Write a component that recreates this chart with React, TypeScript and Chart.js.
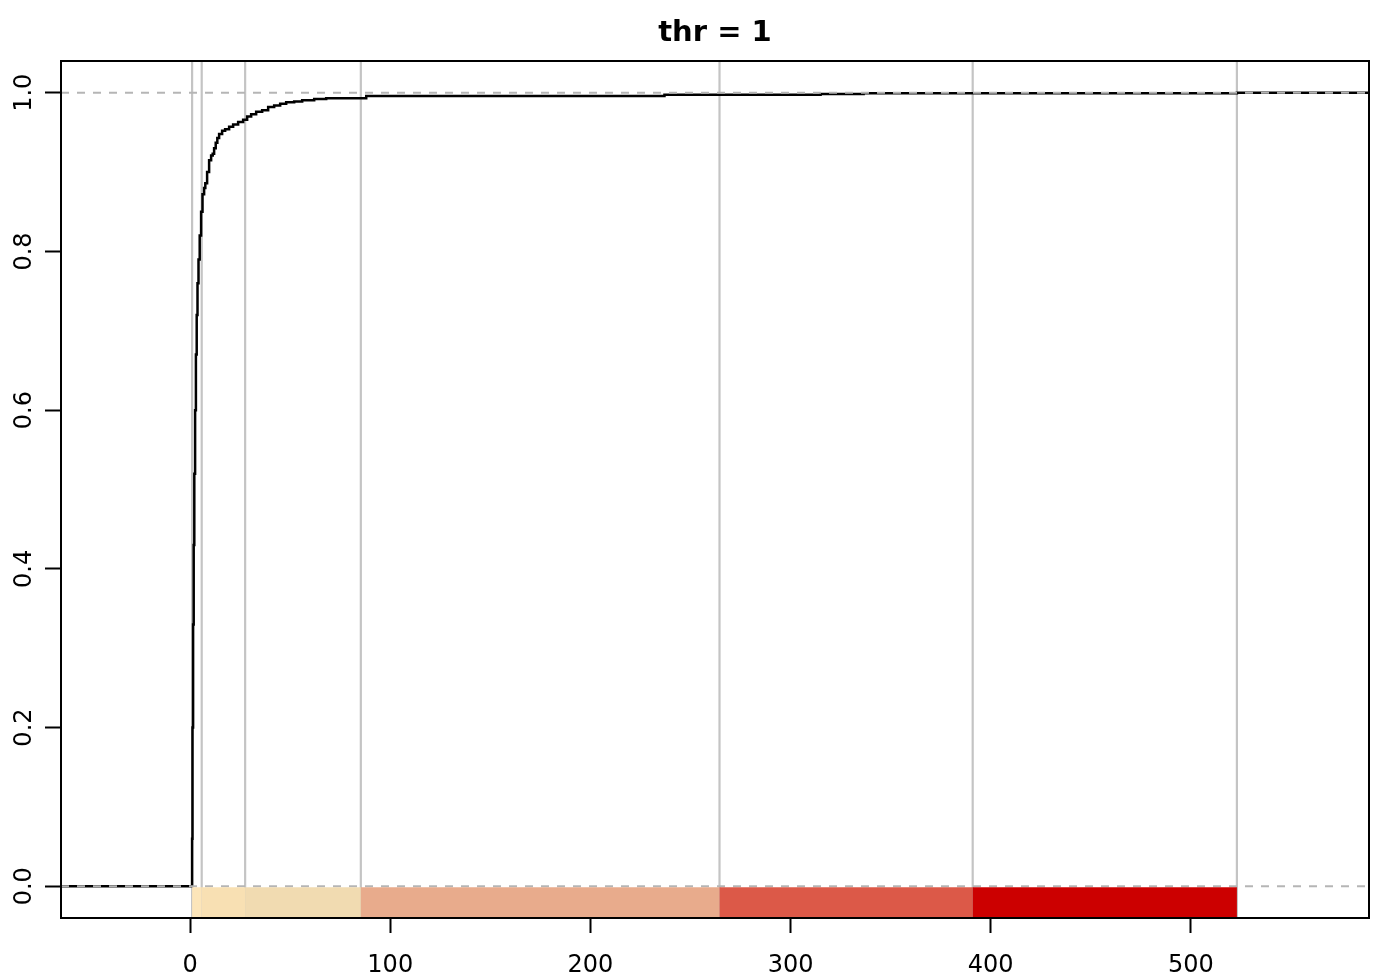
import React, { useEffect, useRef } from "react";
import { Chart, registerables } from "chart.js";

Chart.register(...registerables);

const titleText = "thr = 1";

// ECDF points (x, cumulative fraction)
const curveX = [-70, 1, 1.2, 1.5, 1.8, 2.1, 2.5, 2.9, 3.3, 3.7, 4.2, 4.8, 5.5, 6.2, 7, 7.6, 8.5, 9.5, 10.5, 11.3, 12, 12.8, 13.6, 14.5, 16, 17.5, 19.5, 21.5, 24, 26.5, 28.5, 30.5, 33, 36, 39, 42, 45, 48, 52, 56, 62, 68, 88, 237, 315, 336.5, 523, 600];
const curveY = [0, 0.06, 0.2, 0.33, 0.43, 0.52, 0.6, 0.67, 0.72, 0.76, 0.79, 0.82, 0.85, 0.872, 0.88, 0.886, 0.9, 0.915, 0.921, 0.923, 0.93, 0.937, 0.943, 0.948, 0.952, 0.954, 0.957, 0.96, 0.963, 0.966, 0.97, 0.973, 0.976, 0.978, 0.982, 0.984, 0.986, 0.988, 0.989, 0.9905, 0.992, 0.993, 0.996, 0.9975, 0.9985, 0.9993, 1, 1];

// band boundaries (also the vertical reference lines) and colours
const bandBreaks = [1, 5.8, 27.5, 85.3, 264.5, 391, 523];
const bandColors = ["#fce5b9", "#f8e0b3", "#f1dbb1", "#e8ab8c", "#dc5948", "#cc0000"];

// horizontal reference lines
const refLines = [0, 1];

const xTicks = [0, 100, 200, 300, 400, 500];
const yTicks = [0, 0.2, 0.4, 0.6, 0.8, 1.0];
const yTickLabels = ["0.0", "0.2", "0.4", "0.6", "0.8", "1.0"];

const xRange = [-64.5, 589];
const yRange = [-0.04, 1.04];

const FONT = "'DejaVu Sans', 'Liberation Sans', sans-serif";

const decorPlugin = {
  id: "decor",
  beforeDatasetsDraw(chart: any) {
    const { ctx, chartArea, scales } = chart;
    const xs = scales.x;
    ctx.save();
    ctx.beginPath();
    ctx.rect(chartArea.left, chartArea.top, chartArea.right - chartArea.left, chartArea.bottom - chartArea.top);
    ctx.clip();
    ctx.strokeStyle = "#c4c4c4";
    ctx.lineWidth = 2.2;
    for (const b of bandBreaks) {
      const px = xs.getPixelForValue(b);
      ctx.beginPath();
      ctx.moveTo(px, chartArea.top);
      ctx.lineTo(px, chartArea.bottom);
      ctx.stroke();
    }
    ctx.restore();
  },
  afterDatasetsDraw(chart: any) {
    const { ctx, chartArea, scales } = chart;
    const xs = scales.x;
    const ys = scales.y;
    ctx.save();
    ctx.beginPath();
    ctx.rect(chartArea.left, chartArea.top, chartArea.right - chartArea.left, chartArea.bottom - chartArea.top);
    ctx.clip();
    // dashed horizontal lines
    ctx.strokeStyle = "#b5b5b5";
    ctx.lineWidth = 2;
    ctx.setLineDash([8, 8]);
    for (const v of refLines) {
      const py = ys.getPixelForValue(v);
      ctx.beginPath();
      ctx.moveTo(chartArea.left, py);
      ctx.lineTo(chartArea.right, py);
      ctx.stroke();
    }
    ctx.setLineDash([]);
    // coloured bands below zero
    const y0 = ys.getPixelForValue(0) + 1;
    const y1 = ys.getPixelForValue(yRange[0]);
    for (let i = 0; i < bandColors.length; i++) {
      const a = xs.getPixelForValue(bandBreaks[i]);
      const b = xs.getPixelForValue(bandBreaks[i + 1]);
      ctx.fillStyle = bandColors[i];
      ctx.fillRect(a, y0, b - a, y1 - y0);
    }
    ctx.restore();
  },
  afterDraw(chart: any) {
    const { ctx, chartArea, scales } = chart;
    const ys = scales.y;
    ctx.save();
    // box
    ctx.strokeStyle = "#000";
    ctx.lineWidth = 2;
    ctx.strokeRect(chartArea.left, chartArea.top, chartArea.right - chartArea.left, chartArea.bottom - chartArea.top);
    // y tick labels (rotated)
    ctx.fillStyle = "#000";
    ctx.font = `24px ${FONT}`;
    ctx.textAlign = "center";
    ctx.textBaseline = "middle";
    for (let i = 0; i < yTicks.length; i++) {
      const py = ys.getPixelForValue(yTicks[i]);
      ctx.save();
      ctx.translate(chartArea.left - 36, py);
      ctx.rotate(-Math.PI / 2);
      ctx.fillText(yTickLabels[i], 0, 0);
      ctx.restore();
    }
    // title
    ctx.font = `bold 29px ${FONT}`;
    ctx.textAlign = "center";
    ctx.textBaseline = "middle";
    ctx.fillText(titleText, (chartArea.left + chartArea.right) / 2, 33);
    ctx.restore();
  },
};

export default function App() {
  const ref = useRef<HTMLCanvasElement | null>(null);
  useEffect(() => {
    document.body.style.margin = "0";
    const canvas = ref.current;
    if (!canvas) return;
    const data = curveX.map((x, i) => ({ x, y: curveY[i] }));
    const chart = new Chart(canvas, {
      type: "line",
      data: {
        datasets: [
          {
            data,
            borderColor: "#000",
            borderWidth: 2.5,
            pointRadius: 0,
            stepped: true,
            fill: false,
          },
        ],
      },
      options: {
        animation: false,
        responsive: false,
        devicePixelRatio: 1,
        parsing: true,
        layout: { padding: { left: 0, top: 61, right: 31, bottom: 0 } },
        plugins: {
          legend: { display: false },
          tooltip: { enabled: false },
          title: { display: false },
        },
        scales: {
          x: {
            type: "linear",
            min: xRange[0],
            max: xRange[1],
            border: { display: false },
            grid: {
              display: true,
              drawOnChartArea: false,
              drawTicks: true,
              tickLength: 15,
              tickWidth: 2,
              tickColor: "#000",
            },
            ticks: {
              color: "#000",
              font: { family: FONT, size: 24 },
              padding: 18,
              autoSkip: false,
              maxRotation: 0,
              minRotation: 0,
            },
            afterBuildTicks: (s: any) => {
              s.ticks = xTicks.map((v) => ({ value: v }));
            },
            afterFit: (s: any) => {
              s.height = 62;
            },
          },
          y: {
            type: "linear",
            min: yRange[0],
            max: yRange[1],
            border: { display: false },
            grid: {
              display: true,
              drawOnChartArea: false,
              drawTicks: true,
              tickLength: 16,
              tickWidth: 2,
              tickColor: "#000",
            },
            ticks: { display: false },
            afterBuildTicks: (s: any) => {
              s.ticks = yTicks.map((v) => ({ value: v }));
            },
            afterFit: (s: any) => {
              s.width = 61;
            },
          },
        },
      },
      plugins: [decorPlugin],
    });
    return () => chart.destroy();
  }, []);
  return (
    <div style={{ position: "absolute", left: 0, top: 0, width: 1400, height: 980, background: "#fff" }}>
      <canvas ref={ref} width={1400} height={980} />
    </div>
  );
}
